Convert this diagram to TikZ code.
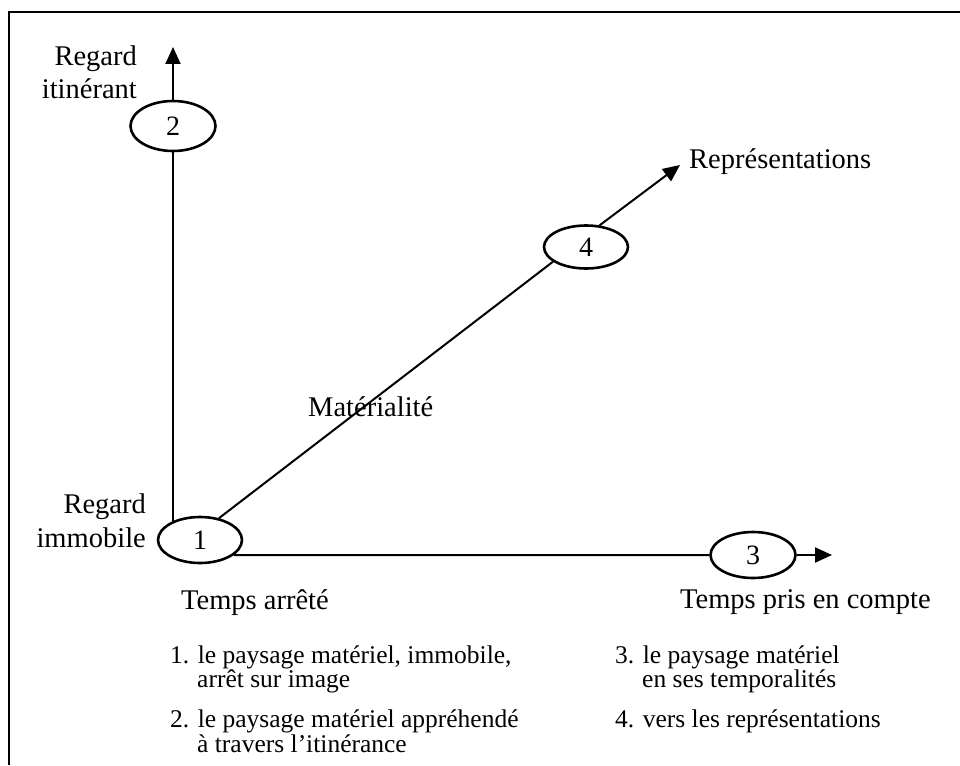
\documentclass[tikz,border=0pt]{standalone}
\usepackage{fontspec}
\setmainfont{Liberation Serif}
\usetikzlibrary{arrows.meta,shapes.geometric}
\begin{document}
\begin{tikzpicture}[x=1pt,y=-1pt,
  oval/.style={ellipse,draw,line width=2.6pt,inner sep=0pt,font=\fontsize{28}{33}\selectfont},
  axis/.style={line width=2pt},
  arr/.style={axis,-{Triangle[length=17pt,width=15pt]}},
  lbl/.style={inner sep=0pt,font=\fontsize{28.5}{33}\selectfont},
  item/.style={inner sep=0pt,font=\fontsize{25.5}{30}\selectfont,anchor=base west}]
\useasboundingbox (0,0) rectangle (960,765);
\draw[line width=2pt] (960,12) -- (8.7,12) -- (8.7,765);
% ovals
\node[oval,minimum width=84pt,minimum height=46pt] (n1) at (200,540) {1};
\node[oval,minimum width=85pt,minimum height=50pt] (n2) at (173,126) {2};
\node[oval,minimum width=85pt,minimum height=46pt] (n3) at (753,555) {3};
\node[oval,minimum width=84pt,minimum height=43pt] (n4) at (586,247) {4};
% arrow tips
\coordinate (t2) at (173,47);
\coordinate (t4) at (680,165);
\coordinate (t3) at (832,555);
% connectors
\draw[axis] (n1.145 -| n2) -- (n2);
\draw[arr] (n2) -- (t2);
\draw[axis] (n1.-24) -- (n3);
\draw[arr] (n3) -- (t3);
\draw[axis] (n1.49) -- (n4.204);
\draw[arr] (n4.58) -- (t4);
% labels
\node[lbl,anchor=base east] (l2a) at (137,66) {Regard};
\node[lbl,anchor=base east] (l2b) at (137,99) {itinérant};
\node[lbl,anchor=base east] (l1a) at (146,513) {Regard};
\node[lbl,anchor=base east] (l1b) at (146,547) {immobile};
\node[lbl,anchor=base west] (l4) at (689,168) {Représentations};
\node[lbl,anchor=base west] (lm) at (308,416) {Matérialité};
\node[lbl,anchor=base west] (lt1) at (181,609) {Temps arrêté};
\node[lbl,anchor=base west] (lt3) at (680,608) {Temps pris en compte};
% lists
\node[item] (i1a) at (170,663) {1. le paysage matériel, immobile,};
\node[item] (i1b) at (197,687) {arrêt sur image};
\node[item] (i2a) at (170,727) {2. le paysage matériel appréhendé};
\node[item] (i2b) at (197,752) {à travers l’itinérance};
\node[item] (i3a) at (615,663) {3. le paysage matériel};
\node[item] (i3b) at (642,687) {en ses temporalités};
\node[item] (i4a) at (615,727) {4. vers les représentations};
\end{tikzpicture}
\end{document}
